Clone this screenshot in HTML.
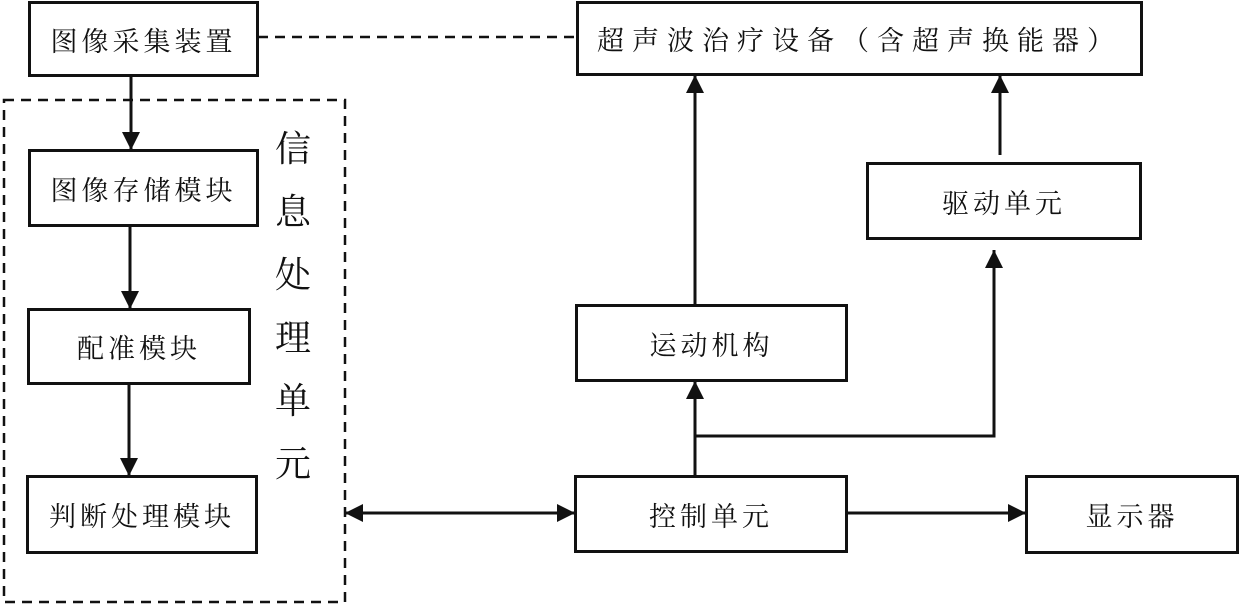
<!DOCTYPE html>
<html><head><meta charset="utf-8"><style>
body{margin:0;background:#fff;width:1240px;height:605px;overflow:hidden;position:relative;font-family:"Liberation Serif","Noto Serif CJK SC",serif;color:#111}
.b{position:absolute;border:3px solid #111;box-sizing:border-box;display:flex;align-items:center;justify-content:center;font-size:26px;background:#fff}
.v{position:absolute;font-size:36px;line-height:63px;width:40px;text-align:center}
svg{position:absolute;left:0;top:0}
</style></head><body>
<svg width="1240" height="605">
<defs>
<marker id="h" markerWidth="18" markerHeight="18" refX="18" refY="9" orient="auto-start-reverse" markerUnits="userSpaceOnUse"><path d="M0,0L18,9L0,18z" fill="#111"/></marker></defs>
<g stroke="#111" stroke-width="3" fill="none">
<rect x="4" y="100" width="341" height="502" stroke-dasharray="10,7" stroke-width="2.5"/>
<line x1="258" y1="37" x2="577" y2="37" stroke-dasharray="10,7" stroke-width="2.5"/>
<line x1="131" y1="75" x2="131" y2="150" marker-end="url(#h)"/>
<line x1="130" y1="226" x2="130" y2="309" marker-end="url(#h)"/>
<line x1="129" y1="384" x2="129" y2="476" marker-end="url(#h)"/>
<line x1="345" y1="513" x2="575" y2="513" marker-start="url(#h)" marker-end="url(#h)"/>
<line x1="695" y1="305" x2="695" y2="75" marker-end="url(#h)"/>
<line x1="1000" y1="155" x2="1000" y2="75" marker-end="url(#h)"/>
<line x1="695" y1="476" x2="695" y2="381" marker-end="url(#h)"/>
<polyline points="695,436 994,436 994,250" marker-end="url(#h)"/>
<line x1="847" y1="513" x2="1026" y2="513" marker-end="url(#h)"/>
</g></svg>
<div class="b" style="left:28px;top:1px;width:231px;height:76px;letter-spacing:4px;font-size:27px">图像采集装置</div>
<div class="b" style="left:28px;top:149px;width:231px;height:78px;letter-spacing:4px;font-size:27px">图像存储模块</div>
<div class="b" style="left:27px;top:308px;width:224px;height:77px;letter-spacing:4px;font-size:27px">配准模块</div>
<div class="b" style="left:26px;top:475px;width:232px;height:79px;letter-spacing:4px;font-size:27px">判断处理模块</div>
<div class="v" style="left:273px;top:118px">信<br>息<br>处<br>理<br>单<br>元</div>
<div class="b" style="left:576px;top:1px;width:567px;height:75px;letter-spacing:8px;font-size:27px">超声波治疗设备（含超声换能器）</div>
<div class="b" style="left:866px;top:162px;width:276px;height:78px;letter-spacing:4px;font-size:27px">驱动单元</div>
<div class="b" style="left:575px;top:304px;width:273px;height:78px;letter-spacing:4px;font-size:27px">运动机构</div>
<div class="b" style="left:574px;top:475px;width:274px;height:78px;letter-spacing:4px;font-size:27px">控制单元</div>
<div class="b" style="left:1025px;top:475px;width:214px;height:79px;letter-spacing:4px;font-size:27px">显示器</div>
</body></html>
